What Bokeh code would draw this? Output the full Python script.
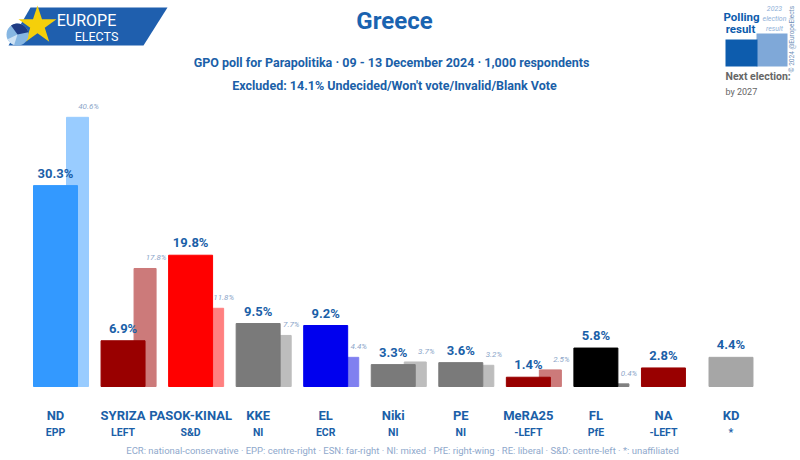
from math import pi
from bokeh.plotting import figure
from bokeh.models import Range1d, Label, ColumnDataSource
from bokeh.core.properties import value
from bokeh.embed import file_html
from bokeh.resources import INLINE

# ---------------- data ----------------
parties = ["ND", "SYRIZA", "PASOK-KINAL", "KKE", "EL", "Niki", "PE", "MeRA25", "FL", "NA", "KD"]
groups = ["EPP", "LEFT", "S&D", "NI", "ECR", "NI", "NI", "-LEFT", "PfE", "-LEFT", "*"]
poll = [30.3, 6.9, 19.8, 9.5, 9.2, 3.3, 3.6, 1.4, 5.8, 2.8, 4.4]
election = [40.6, 17.8, 11.8, 7.7, 4.4, 3.7, 3.2, 2.5, 0.4, None, None]
poll_colors = ["#3399ff", "#990000", "#ff0000", "#7a7a7a", "#0000ee", "#7a7a7a",
               "#7a7a7a", "#990000", "#000000", "#990000", "#a6a6a6"]
election_colors = ["#99ccff", "#cc7a7a", "#ff8080", "#bdbdbd", "#8080f0", "#bdbdbd",
                   "#bdbdbd", "#cc7a7a", "#808080", None, None]

title = "Greece"
subtitle1 = "GPO poll for Parapolitika · 09 - 13 December 2024 · 1,000 respondents"
subtitle2 = "Excluded: 14.1% Undecided/Won't vote/Invalid/Blank Vote"
footer = ("ECR: national-conservative · EPP: centre-right · ESN: far-right · NI: mixed · "
          "PfE: right-wing · RE: liberal · S&D: centre-left · *: unaffiliated")

FONT = value("Roboto")
BLUE = "#1b5fa8"
LIGHTBLUE = "#8ca6c9"

W, H = 800, 460

# ---------------- figure ----------------
p = figure(width=W, height=H,
           x_range=Range1d(-0.8142, 11.029), y_range=Range1d(-11.161, 58.22),
           output_backend="svg", toolbar_location=None,
           x_axis_type=None, y_axis_type=None, min_border=0)
p.outline_line_color = None
p.background_fill_color = "white"
p.border_fill_color = "white"
p.extra_x_ranges = {"px": Range1d(0, W)}
p.extra_y_ranges = {"px": Range1d(H, 0)}

n = len(parties)
ix = list(range(n))

# election bars (behind)
e_idx = [i for i in ix if election[i] is not None]
esrc = ColumnDataSource(dict(
    x=[i + 0.326 for i in e_idx],
    top=[election[i] for i in e_idx],
    color=[election_colors[i] for i in e_idx],
    label=["%.1f%%" % election[i] for i in e_idx],
    lx=[i + 0.49 for i in e_idx],
))
p.vbar(x="x", top="top", bottom=0, width=0.326, color="color", source=esrc)

# poll bars
psrc = ColumnDataSource(dict(
    x=ix, top=poll, color=poll_colors,
    label=["%.1f%%" % v for v in poll],
))
p.vbar(x="x", top="top", bottom=0, width=0.651, color="color", source=psrc)

# value labels
p.text(x="x", y="top", text="label", source=psrc, y_offset=-5,
       text_align="center", text_baseline="bottom", text_font=FONT,
       text_font_size="13px", text_font_style="bold", text_color=BLUE)
p.text(x="lx", y="top", text="label", source=esrc, y_offset=-6,
       text_align="center", text_baseline="bottom", text_font=FONT,
       text_font_size="8px", text_font_style="italic", text_color=LIGHTBLUE)

# category labels
p.text(x=ix, y=[415] * n, text=parties, y_range_name="px",
       text_align="center", text_baseline="middle", text_font=FONT,
       text_font_size="13px", text_font_style="bold", text_color=BLUE)
p.text(x=ix, y=[432] * n, text=groups, y_range_name="px",
       text_align="center", text_baseline="middle", text_font=FONT,
       text_font_size="10.5px", text_font_style="bold", text_color=BLUE)

def px_text(x, y, t, size, style="normal", color=BLUE, align="center"):
    p.text(x=[x], y=[y], text=[t], x_range_name="px", y_range_name="px",
           text_align=align, text_baseline="middle", text_font=FONT,
           text_font_size=size, text_font_style=style, text_color=color)

# titles
px_text(394, 20, title, "24px", "bold", "#1a63b0")
px_text(391, 62, subtitle1, "12.5px", "bold")
px_text(394, 85, subtitle2, "12.5px", "bold")
px_text(402, 450, footer, "9.5px", "normal", "#8fa9cc")

# logo
p.patch(x=[30, 167, 143, 8], y=[7, 7, 45, 45], x_range_name="px", y_range_name="px",
        color="#1f5fae", line_color=None)
p.scatter(x=[37], y=[25], marker="star", size=40, color="#f5cf0a", line_color=None,
          x_range_name="px", y_range_name="px")
p.wedge(x=[17], y=[34], radius=11, start_angle=0, end_angle=2 * pi, color="#86b6e2",
        line_color=None, x_range_name="px", y_range_name="px")
p.wedge(x=[17], y=[34], radius=11, start_angle=0.2, end_angle=2.2, color="#1e3b84",
        line_color=None, x_range_name="px", y_range_name="px")
p.wedge(x=[17], y=[34], radius=11, start_angle=3.6, end_angle=4.4, color="#cfe3f5",
        line_color=None, x_range_name="px", y_range_name="px")
px_text(86, 20, "EUROPE", "16px", "normal", "white")
px_text(96, 36, "ELECTS", "12.5px", "normal", "white")

# legend (top right)
p.quad(left=[756], right=[787], top=[33], bottom=[66], color="#7fa8d8", line_color=None,
       x_range_name="px", y_range_name="px")
p.quad(left=[725], right=[757], top=[39], bottom=[66], color="#0d5cad", line_color=None,
       x_range_name="px", y_range_name="px")
px_text(741, 16, "Polling", "11.5px", "bold", "#0d5cad")
px_text(740, 28, "result", "11.5px", "bold", "#0d5cad")
px_text(774, 8, "2023", "7px", "italic", "#8fb0d8")
px_text(774, 18, "election", "7px", "italic", "#8fb0d8")
px_text(774, 28, "result", "7px", "italic", "#8fb0d8")
px_text(725, 76, "Next election:", "10.5px", "bold", "#666666", "left")
px_text(725, 91, "by 2027", "9px", "normal", "#666666", "left")
p.add_layout(Label(x=791, y=72, x_range_name="px", y_range_name="px",
                   text="© 2024 @EuropeElects", angle=pi / 2, text_font="Roboto",
                   text_font_size="6.5px", text_color="#7090b8", text_baseline="middle"))

open("out.html", "w").write(file_html(p, INLINE))
